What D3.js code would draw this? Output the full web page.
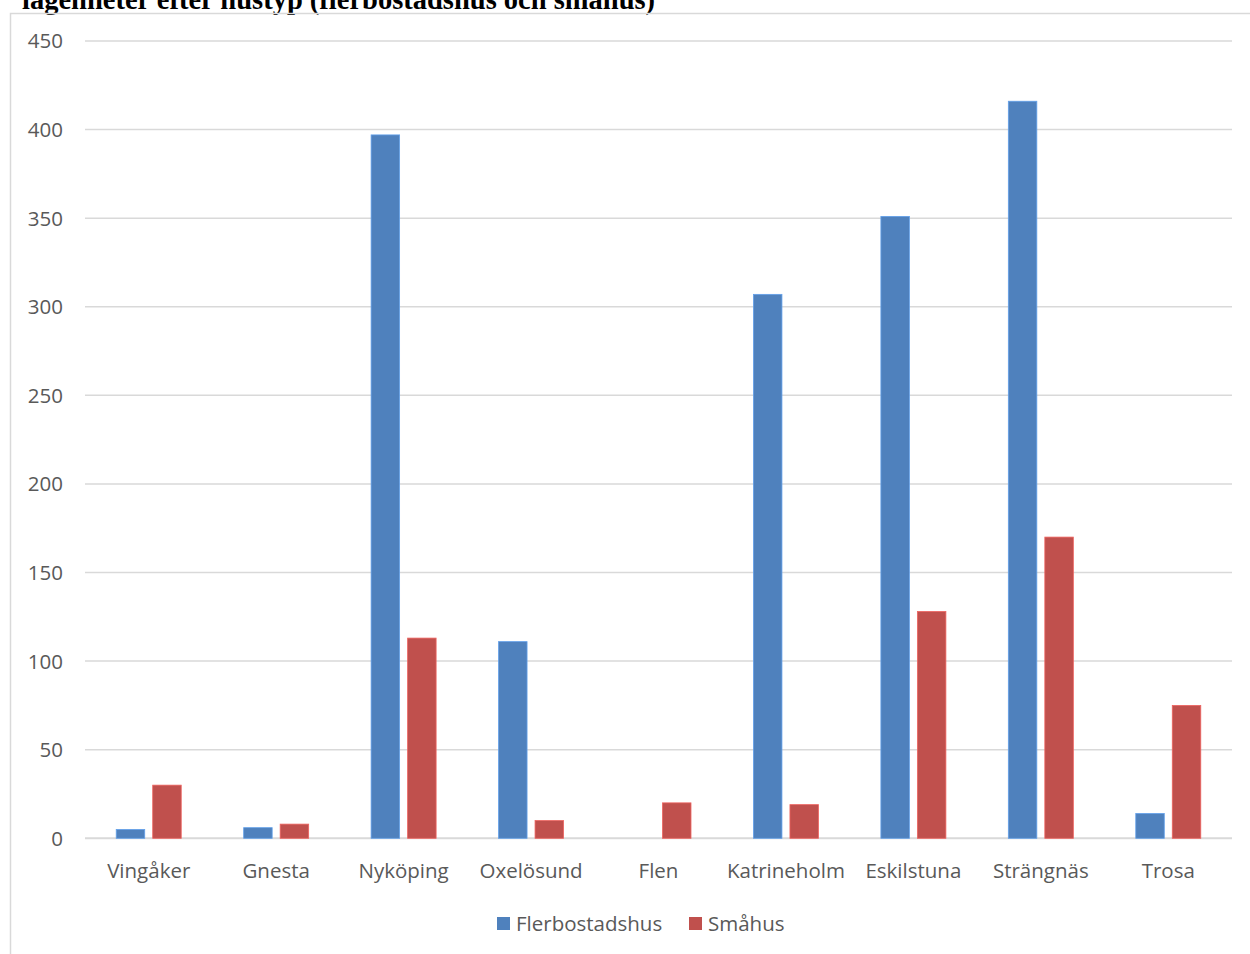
<!DOCTYPE html>
<html>
<head>
<meta charset="utf-8">
<script src="https://cdn.jsdelivr.net/npm/d3@7/dist/d3.min.js"></script>
<style>
  html, body { margin: 0; padding: 0; background: #fff; }
  svg { display: block; }
</style>
</head>
<body>
<svg id="chart" width="1250" height="954"></svg>
<script>
// Färdigställda lägenheter per kommun och hustyp
const kommuner = ["Vingåker", "Gnesta", "Nyköping", "Oxelösund", "Flen", "Katrineholm", "Eskilstuna", "Strängnäs", "Trosa"];
const flerbostadshus = [5, 6, 397, 111, 0, 307, 351, 416, 14];
const smahus = [30, 8, 113, 10, 20, 19, 128, 170, 75];
const seriesNames = ["Flerbostadshus", "Småhus"];
const seriesColors = ["#4F81BD", "#C0504D"];
const yTicks = [0, 50, 100, 150, 200, 250, 300, 350, 400, 450];
const titleText = "lägenheter efter hustyp (flerbostadshus och småhus)";

const svg = d3.select("#chart");
const W = 1250, H = 954;
const plot = { left: 85, right: 1232, top: 41, bottom: 838.3 };
const labelFont = "'Open Sans', sans-serif";
const textColor = "#595959";
const gridColor = "#d9d9d9";

// Title (its upper part runs above the page edge)
svg.append("text")
  .attr("x", 22).attr("y", 9)
  .attr("font-family", "'Liberation Serif', 'Times New Roman', serif")
  .attr("font-weight", "bold")
  .attr("font-size", 28.5)
  .attr("fill", "#000")
  .text(titleText);

// Chart frame
svg.append("path")
  .attr("d", `M10.5,${H} L10.5,13.5 L${W},13.5`)
  .attr("fill", "none")
  .attr("stroke", gridColor)
  .attr("stroke-width", 1.5);

const x = d3.scaleBand().domain(kommuner).range([plot.left, plot.right]).padding(0);
const y = d3.scaleLinear().domain([0, 450]).range([plot.bottom, plot.top]);

// Gridlines
svg.append("g").selectAll("line")
  .data(yTicks)
  .join("line")
  .attr("x1", plot.left).attr("x2", plot.right)
  .attr("y1", d => y(d)).attr("y2", d => y(d))
  .attr("stroke", gridColor)
  .attr("stroke-width", d => d === 0 ? 2 : 1.5);

// Y axis labels
svg.append("g").selectAll("text")
  .data(yTicks)
  .join("text")
  .attr("x", 63)
  .attr("y", d => y(d))
  .attr("dy", "0.36em")
  .attr("text-anchor", "end")
  .attr("font-family", labelFont)
  .attr("font-size", 20.5)
  .attr("fill", textColor)
  .text(d => d);

// Bars
const barW = 28.5, innerGap = 8;
const rows = kommuner.map((k, i) => ({ k, vals: [flerbostadshus[i], smahus[i]] }));
const groups = svg.append("g").selectAll("g")
  .data(rows)
  .join("g")
  .attr("transform", d => `translate(${x(d.k) + x.bandwidth() / 2},0)`);

groups.selectAll("rect")
  .data(d => d.vals.map((v, s) => ({ v, s })))
  .join("rect")
  .attr("x", d => d.s === 0 ? -innerGap / 2 - barW : innerGap / 2)
  .attr("width", barW)
  .attr("y", d => y(d.v))
  .attr("height", d => y(0) - y(d.v))
  .attr("fill", d => seriesColors[d.s])
  .attr("stroke", d => d.v > 0 ? d3.color(seriesColors[d.s]).brighter(0.6) : "none")
  .attr("stroke-width", 0.8);

// Category labels
svg.append("g").selectAll("text")
  .data(kommuner)
  .join("text")
  .attr("x", d => x(d) + x.bandwidth() / 2)
  .attr("y", 878)
  .attr("text-anchor", "middle")
  .attr("font-family", labelFont)
  .attr("font-size", 20.5)
  .attr("fill", textColor)
  .text(d => d);

// Legend
const legendItems = [
  { name: seriesNames[0], color: seriesColors[0], x: 497 },
  { name: seriesNames[1], color: seriesColors[1], x: 689 }
];
const lg = svg.append("g").selectAll("g")
  .data(legendItems)
  .join("g")
  .attr("transform", d => `translate(${d.x},0)`);
lg.append("rect")
  .attr("x", 0).attr("y", 917)
  .attr("width", 13).attr("height", 13)
  .attr("fill", d => d.color);
lg.append("text")
  .attr("x", 19).attr("y", 931)
  .attr("font-family", labelFont)
  .attr("font-size", 20.5)
  .attr("fill", textColor)
  .text(d => d.name);
</script>
</body>
</html>
